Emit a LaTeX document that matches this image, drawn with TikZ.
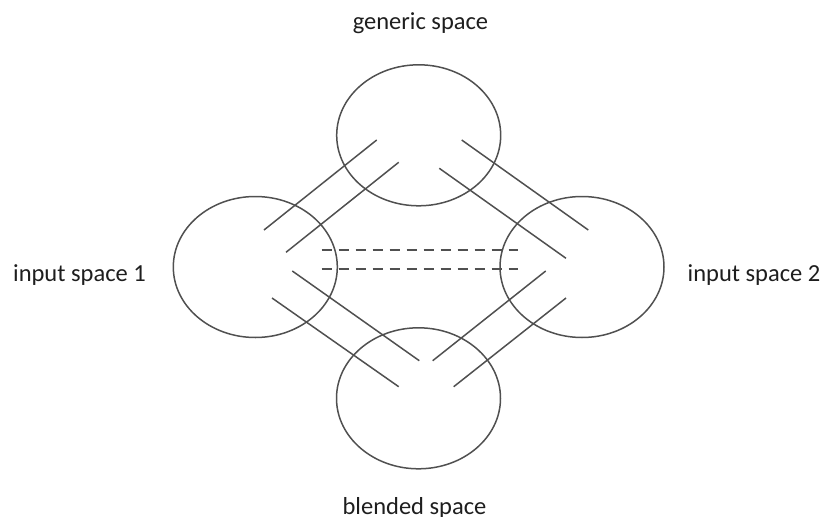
\documentclass[tikz,border=0pt]{standalone}
\usepackage{fontspec}
\setmainfont{Carlito}
\usetikzlibrary{shapes.geometric}
\definecolor{linegray}{HTML}{505050}
\definecolor{txt}{HTML}{1E1E1E}
\tikzset{
  space/.style={ellipse, draw=linegray, line width=1.5pt, minimum width=164pt, minimum height=141pt, inner sep=0pt},
  link/.style={draw=linegray, line width=1.5pt},
  dashlink/.style={draw=linegray, line width=2pt, dash pattern=on 10.5pt off 6.5pt},
  lbl/.style={anchor=base, inner sep=0pt, text=txt, font=\fontsize{24.5}{28}\selectfont}
}
\begin{document}
\begin{tikzpicture}[x=1pt, y=-1pt]
\useasboundingbox (0,0) rectangle (823,517);
\node[space] (gen) at (418.7,135.3) {};
\node[space] (in1) at (255.3,267) {};
\node[space] (in2) at (582,267) {};
\node[space] (bl) at (418.5,398.3) {};

\node[lbl] (tgen) at (420.5,29.5) {generic space};
\node[lbl] (tin1) at (79.5,281.7) {input space 1};
\node[lbl] (tin2) at (754,281.7) {input space 2};
\node[lbl] (tbl) at (414.5,514) {blended space};

% upper-left pair
\coordinate (a1s) at (376.7,140); \coordinate (a1e) at (264,230);
\coordinate (a2s) at (398.7,162.3); \coordinate (a2e) at (286,252.3);
% upper-right pair
\coordinate (b1s) at (461.7,140); \coordinate (b1e) at (588.3,230);
\coordinate (b2s) at (439.3,168.3); \coordinate (b2e) at (566,258.3);
% lower-left pair
\coordinate (c1s) at (292.3,271); \coordinate (c1e) at (419.3,360.7);
\coordinate (c2s) at (272,298); \coordinate (c2e) at (398.7,386.7);
% lower-right pair
\coordinate (d1s) at (545.7,271); \coordinate (d1e) at (432.7,360.7);
\coordinate (d2s) at (566,298); \coordinate (d2e) at (453.7,386.7);
% dashed
\coordinate (e1s) at (321.7,250.3); \coordinate (e1e) at (518,250.3);
\coordinate (e2s) at (321.7,269.3); \coordinate (e2e) at (518,269.3);

\draw[link] (a1s) -- (a1e);
\draw[link] (a2s) -- (a2e);
\draw[link] (b1s) -- (b1e);
\draw[link] (b2s) -- (b2e);
\draw[link] (c1s) -- (c1e);
\draw[link] (c2s) -- (c2e);
\draw[link] (d1s) -- (d1e);
\draw[link] (d2s) -- (d2e);
\draw[dashlink] (e1s) -- (e1e);
\draw[dashlink] (e2s) -- (e2e);
\end{tikzpicture}
\end{document}
